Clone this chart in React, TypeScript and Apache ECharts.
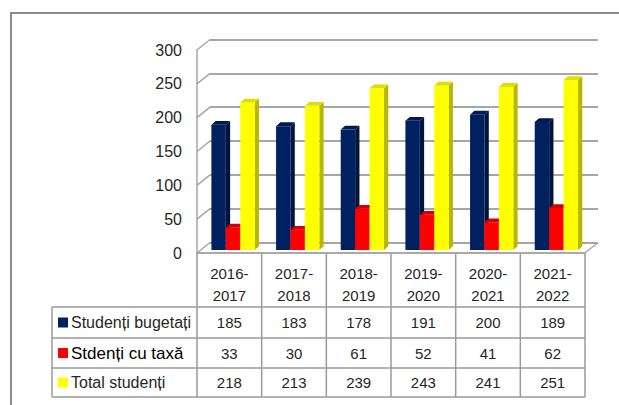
import React, { useEffect, useRef } from "react";
import * as echarts from "echarts";

// ---- data ----
const categories = ["2016-2017", "2017-2018", "2018-2019", "2019-2020", "2020-2021", "2021-2022"];
const seriesNames = ["Studenți bugetați", "Stdenți cu taxă", "Total studenți"];
const bugetati = [185, 183, 178, 191, 200, 189];
const cuTaxa = [33, 30, 61, 52, 41, 62];
const total = [218, 213, 239, 243, 241, 251];
const yTicks = [0, 50, 100, 150, 200, 250, 300];

// ---- styles / layout ----
const W = 619;
const H = 405;
const FRONT = { left: 197, top: 50, width: 388, height: 203 };
const DEPTH_X = 13;
const DEPTH_Y = -10.5;
const BACK = { left: FRONT.left + DEPTH_X, top: FRONT.top + DEPTH_Y, width: FRONT.width, height: FRONT.height };
const BAR_FRAC = 0.223;
const FX = 3.7;
const FY = -3;
const BX = 4.3;
const BY = -3.8;
const GRID_COLOR = "#A6A6A6";
const TABLE_COLOR = "#9A9A9A";
const TEXT_COLOR = "#262626";
const FONT = "Liberation Sans";
const colors = [
  { front: "#002060", side: "#00143F", top: "#001A52" },
  { front: "#FF0000", side: "#B80000", top: "#D40000" },
  { front: "#FFFF00", side: "#B8B800", top: "#DEDE00" },
];
const TABLE_TOP = FRONT.top + FRONT.height; // 253
const ROW_LINES = [307, 338, 368, 397];
const TABLE_LEFT = 52;

function makeBarSeries(idx: number, values: number[]) {
  return {
    type: "custom",
    name: seriesNames[idx],
    xAxisIndex: 0,
    yAxisIndex: 0,
    data: values.map((v, i) => [i, v]),
    encode: { x: 0, y: 1 },
    z: 5,
    renderItem: (params: any, api: any) => {
      const i = api.value(0);
      const v = api.value(1);
      const band = api.size([1, 0])[0];
      const topPt = api.coord([i, v]);
      const basePt = api.coord([i, 0]);
      const bw = band * BAR_FRAC;
      const x0 = topPt[0] - 1.5 * bw + idx * bw + FX;
      const yT = topPt[1] + FY;
      const yB = basePt[1] + FY;
      const c = colors[idx];
      return {
        type: "group",
        children: [
          {
            type: "polygon",
            shape: { points: [[x0 + bw, yT], [x0 + bw + BX, yT + BY], [x0 + bw + BX, yB + BY], [x0 + bw, yB]] },
            style: { fill: c.side },
          },
          { type: "rect", shape: { x: x0, y: yT, width: bw, height: yB - yT }, style: { fill: c.front } },
          {
            type: "polygon",
            shape: { points: [[x0, yT], [x0 + bw, yT], [x0 + bw + BX, yT + BY], [x0 + BX, yT + BY]] },
            style: { fill: c.top },
          },
        ],
      };
    },
  };
}

export default function App() {
  const ref = useRef<HTMLDivElement>(null);
  useEffect(() => {
    if (!ref.current) return;
    const chart = echarts.init(ref.current, null, { renderer: "svg" });
    const rows = [bugetati, cuTaxa, total];
    const rowCenters = ROW_LINES.slice(0, 3).map((y, r) => (y + ROW_LINES[r + 1]) / 2);
    const tableData: any[] = [];
    rows.forEach((arr, r) => arr.forEach((v, i) => tableData.push([i, r, v])));

    const colX = categories.map((_, k) => FRONT.left + (k * FRONT.width) / categories.length);
    colX.push(FRONT.left + FRONT.width);

    const graphic: any[] = [
      {
        type: "rect",
        shape: { x: 11, y: 13, width: 800, height: 600 },
        style: { fill: "none", stroke: "#8C8C8C", lineWidth: 2 },
        z: 0,
      },
      // floor right diagonal
      {
        type: "line",
        shape: { x1: FRONT.left + FRONT.width, y1: TABLE_TOP, x2: BACK.left + BACK.width, y2: TABLE_TOP + DEPTH_Y },
        style: { stroke: GRID_COLOR, lineWidth: 1.5 },
      },
      // table horizontal lines
      {
        type: "line",
        shape: { x1: FRONT.left, y1: TABLE_TOP, x2: FRONT.left + FRONT.width, y2: TABLE_TOP },
        style: { stroke: TABLE_COLOR, lineWidth: 1.5 },
      },
      ...ROW_LINES.map((y) => ({
        type: "line",
        shape: { x1: TABLE_LEFT, y1: y, x2: FRONT.left + FRONT.width, y2: y },
        style: { stroke: TABLE_COLOR, lineWidth: 1.5 },
      })),
      {
        type: "line",
        shape: { x1: TABLE_LEFT, y1: ROW_LINES[0], x2: TABLE_LEFT, y2: ROW_LINES[3] },
        style: { stroke: TABLE_COLOR, lineWidth: 1.5 },
      },
      ...colX.map((x) => ({
        type: "line",
        shape: { x1: x, y1: TABLE_TOP, x2: x, y2: ROW_LINES[3] },
        style: { stroke: TABLE_COLOR, lineWidth: 1.5 },
      })),
      // legend keys and names
      ...seriesNames.flatMap((name, r) => [
        {
          type: "rect",
          shape: { x: 58, y: rowCenters[r] - 5, width: 10, height: 10 },
          style: { fill: colors[r].front },
        },
        {
          type: "text",
          x: 71,
          y: rowCenters[r],
          style: {
            text: name,
            fill: r === 1 ? "#000000" : TEXT_COLOR,
            fontSize: r === 1 ? 17 : 16,
            fontFamily: FONT,
            align: "left",
            verticalAlign: "middle",
          },
        },
      ]),
    ];

    chart.setOption({
      animation: false,
      textStyle: { fontFamily: FONT },
      grid: [
        { left: FRONT.left, top: FRONT.top, width: FRONT.width, height: FRONT.height, containLabel: false },
        { left: BACK.left, top: BACK.top, width: BACK.width, height: BACK.height, containLabel: false },
      ],
      xAxis: [
        {
          type: "category",
          gridIndex: 0,
          data: categories,
          axisLine: { show: true, lineStyle: { color: GRID_COLOR, width: 1.5 } },
          axisTick: { show: false },
          axisLabel: {
            interval: 0,
            margin: 9,
            fontSize: 15,
            lineHeight: 22,
            color: TEXT_COLOR,
            fontFamily: FONT,
            formatter: (v: string) => v.replace("-", "-\n"),
          },
          splitLine: { show: false },
        },
        {
          type: "category",
          gridIndex: 1,
          data: categories,
          show: false,
        },
      ],
      yAxis: [
        {
          type: "value",
          gridIndex: 0,
          min: 0,
          max: 300,
          interval: 50,
          axisLine: { show: true, lineStyle: { color: GRID_COLOR, width: 1.5 } },
          axisTick: { show: false },
          axisLabel: { margin: 15, fontSize: 16, color: TEXT_COLOR, fontFamily: FONT },
          splitLine: { show: false },
        },
        {
          type: "value",
          gridIndex: 1,
          min: 0,
          max: 300,
          interval: 50,
          axisLine: { show: false },
          axisTick: { show: false },
          axisLabel: { show: false },
          splitLine: { show: true, lineStyle: { color: GRID_COLOR, width: 2 } },
        },
      ],
      series: [
        // left side wall diagonals
        {
          type: "custom",
          xAxisIndex: 0,
          yAxisIndex: 0,
          data: yTicks.map((t) => [0, t]),
          encode: { x: 0, y: 1 },
          silent: true,
          z: 1,
          renderItem: (params: any, api: any) => {
            const p = api.coord([0, api.value(1)]);
            const x = params.coordSys.x;
            return {
              type: "line",
              shape: { x1: x, y1: p[1], x2: x + DEPTH_X, y2: p[1] + DEPTH_Y },
              style: { stroke: GRID_COLOR, lineWidth: 1.5 },
            };
          },
        },
        makeBarSeries(0, bugetati),
        makeBarSeries(1, cuTaxa),
        makeBarSeries(2, total),
        // data table values
        {
          type: "custom",
          xAxisIndex: 0,
          yAxisIndex: 0,
          data: tableData,
          encode: { x: 0 },
          silent: true,
          z: 6,
          renderItem: (params: any, api: any) => {
            const i = api.value(0);
            const r = api.value(1);
            const p = api.coord([i, 0]);
            return {
              type: "text",
              x: p[0],
              y: rowCenters[r],
              style: {
                text: String(api.value(2)),
                fill: TEXT_COLOR,
                fontSize: 15,
                fontFamily: FONT,
                align: "center",
                verticalAlign: "middle",
              },
            };
          },
        },
      ],
      graphic,
    });
    return () => chart.dispose();
  }, []);

  return (
    <div
      ref={ref}
      style={{ position: "absolute", left: 0, top: 0, width: W, height: H, background: "#ffffff" }}
    />
  );
}
